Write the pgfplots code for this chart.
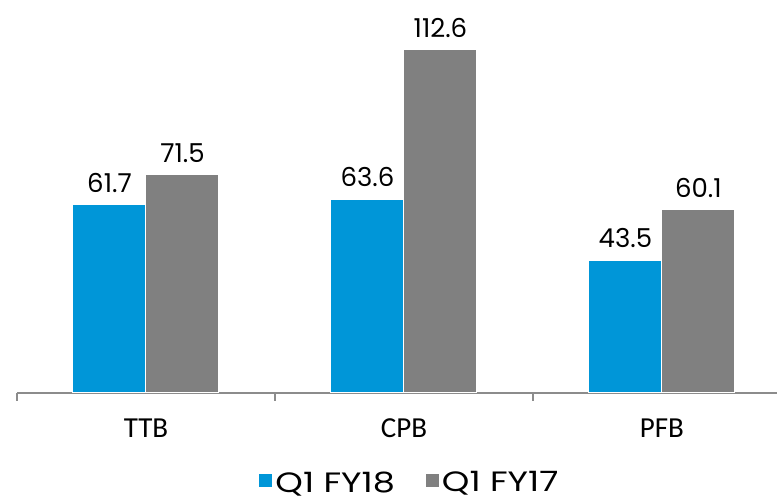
\documentclass[border=0pt]{standalone}
\usepackage{pgfplots}
\pgfplotsset{compat=1.18}
\usepackage{fontspec}
\setmainfont{Poppins}
\newfontfamily\calib{Carlito}
\newfontfamily\legfont[FakeStretch=1.25]{Poppins}
\definecolor{qblue}{HTML}{0096D8}
\definecolor{qgray}{HTML}{808080}
\definecolor{axgray}{HTML}{8C8C8C}
\begin{document}
\begin{tikzpicture}[x=1pt,y=1pt]
\useasboundingbox (0,0) rectangle (777,501);
\begin{axis}[
  at={(17pt,108pt)}, anchor=south west,
  scale only axis, width=760pt, height=393pt,
  xmin=-0.5, xmax=2.446, ymin=0, ymax=128.85,
  axis x line*=bottom, axis y line=none,
  x axis line style={axgray, line width=1.2pt, -},
  xtick={0,1,2}, xticklabels={TTB,CPB,PFB},
  major tick length=0pt,
  minor xtick={-0.5,0.5,1.5},
  minor tick length=8pt, tick align=outside,
  minor tick style={axgray, line width=1.2pt},
  xticklabel style={font=\calib\fontsize{29}{33}\selectfont, yshift=-22pt},
  ybar, bar width=0.283,
  nodes near coords,
  nodes near coords style={font=\fontsize{26}{30}\selectfont, black, yshift=8.5pt},
  every node near coord/.append style={/pgf/number format/fixed,/pgf/number format/precision=1,/pgf/number format/fixed zerofill,/pgf/number format/assume math mode=true},
  legend style={at={(0.5164,-0.228)}, anchor=center, draw=none, fill=none,
    legend columns=2, font=\legfont\fontsize{28}{32}\selectfont,
    /tikz/every even column/.append style={column sep=28pt}},
  legend image code/.code={\fill[#1] (-4pt,-5pt) rectangle (10pt,9pt);},
  clip=false,
]
\addplot[fill=qblue, draw=white, line width=1pt, bar shift=-0.1415] coordinates {(0,61.7) (1,63.6) (2,43.5)};
\addplot[fill=qgray, draw=white, line width=1pt, bar shift=0.1415,
  coordinate style/.condition={\pgfplotspointmeta>100}{yshift=-3.5pt}] coordinates {(0,71.5) (1,112.6) (2,60.1)};
\legend{Q1 FY18, Q1 FY17}
\end{axis}
\end{tikzpicture}
\end{document}
